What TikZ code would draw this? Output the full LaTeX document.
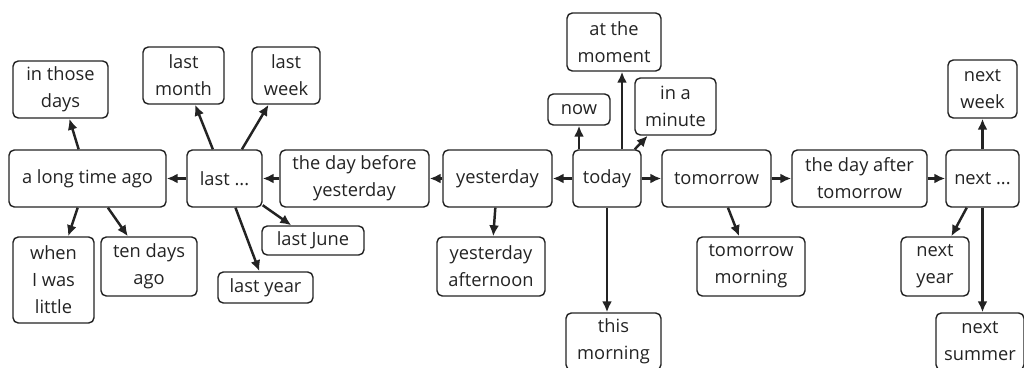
\documentclass[tikz,border=0pt]{standalone}
\usepackage{fontspec}
\setmainfont{Open Sans}
\usetikzlibrary{arrows.meta}
\definecolor{ink}{RGB}{35,35,35}
\tikzset{
  >={Latex[length=2.2mm,width=2mm]},
  phrase/.style={draw=ink,rounded corners=3pt,line width=0.8pt,inner sep=1pt,
    minimum height=1.14cm,align=center,text=ink,font=\fontsize{10.4}{15.4}\selectfont},
  flow/.style={->,line width=1.4pt,draw=ink},
}

\begin{document}
\begin{tikzpicture}
  \useasboundingbox (0,0) rectangle (20.48,7.36);
  \clip (0,0) rectangle (20.48,7.36);
  % time line
  \node[phrase,minimum width=3.14cm] (ago) at (1.75,3.79) {a long time ago};
  \node[phrase,minimum width=1.50cm] (last) at (4.49,3.79) {last ...};
  \node[phrase,minimum width=2.98cm] (before) at (7.09,3.79) {the day before\\yesterday};
  \node[phrase,minimum width=2.18cm] (yest) at (9.95,3.79) {yesterday};
  \node[phrase,minimum width=1.36cm] (today) at (12.14,3.79) {today};
  \node[phrase,minimum width=2.18cm] (tom) at (14.33,3.79) {tomorrow};
  \node[phrase,minimum width=2.70cm] (after) at (17.19,3.79) {the day after\\tomorrow};
  \node[phrase,minimum width=1.46cm] (next) at (19.65,3.79) {next ...};
  % past
  \node[phrase,minimum width=1.90cm] (those) at (1.21,5.57) {in those\\days};
  \node[phrase,minimum width=1.62cm,minimum height=1.72cm] (little) at (1.07,1.76) {when\\I was\\little};
  \node[phrase,minimum width=1.92cm,minimum height=1.18cm] (tendays) at (2.98,2.03) {ten days\\ago};
  \node[phrase,minimum width=1.62cm] (month) at (3.67,5.85) {last\\month};
  \node[phrase,minimum width=1.36cm] (lweek) at (5.72,5.85) {last\\week};
  \node[phrase,minimum width=2.04cm,minimum height=0.58cm] (june) at (6.26,2.55) {last June};
  \node[phrase,minimum width=1.90cm,minimum height=0.62cm] (lyear) at (5.31,1.61) {last year};
  \node[phrase,minimum width=2.16cm,minimum height=1.18cm] (noon) at (9.82,2.03) {yesterday\\afternoon};
  % present
  \node[phrase,minimum width=1.88cm,minimum height=1.16cm] (moment) at (12.28,6.52) {at the\\moment};
  \node[phrase,minimum width=1.24cm,minimum height=0.62cm] (now) at (11.58,5.17) {now};
  \node[phrase,minimum width=1.62cm] (minute) at (13.51,5.23) {in a\\minute};
  \node[phrase,minimum width=1.90cm] (tmorn) at (12.27,0.53) {this\\morning};
  % future
  \node[phrase,minimum width=2.16cm,minimum height=1.18cm] (tommorn) at (15.02,2.03) {tomorrow\\morning};
  \node[phrase,minimum width=1.38cm,minimum height=1.16cm] (nweek) at (19.65,5.58) {next\\week};
  \node[phrase,minimum width=1.36cm,minimum height=1.18cm] (nyear) at (18.70,2.03) {next\\year};
  \node[phrase,minimum width=1.76cm] (summer) at (19.60,0.53) {next\\summer};
  % arrows
  \draw[flow] (last) -- (ago); \draw[flow] (before) -- (last); \draw[flow] (yest) -- (before);
  \draw[flow] (today) -- (yest); \draw[flow] (today) -- (tom); \draw[flow] (tom) -- (after);
  \draw[flow] (after) -- (next);
  \draw[flow] (ago) -- (those); \draw[flow] (ago) -- (little); \draw[flow] (ago) -- (tendays);
  \draw[flow] (last) -- (month); \draw[flow] (last) -- (lweek);
  \draw[flow] (last) -- (june); \draw[flow] (last) -- (lyear);
  \draw[flow] (yest) -- (noon);
  \draw[flow] (now |- today.north) -- (now);
  \draw[flow] ([xshift=0.3cm]today.north) -- ([xshift=0.3cm]today.north |- moment.south);
  \draw[flow] (today) -- (minute);
  \draw[flow] (today.south) -- (today.south |- tmorn.north);
  \draw[flow] (tom) -- (tommorn);
  \draw[flow] (next) -- (nweek); \draw[flow] (next) -- (nyear);
  \draw[flow] (next) -- (next |- summer.north);
\end{tikzpicture}
\end{document}
